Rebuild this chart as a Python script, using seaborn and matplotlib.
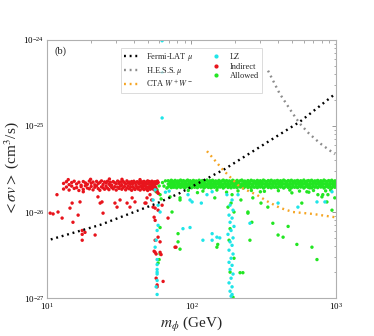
import numpy as np
import pandas as pd
import seaborn as sns
import matplotlib
matplotlib.use("Agg")
import matplotlib.pyplot as plt
from matplotlib.lines import Line2D
from matplotlib.ticker import NullFormatter, FixedLocator

# ---------------- axis ticks ----------------
x_ticks = [10, 100, 1000]
y_ticks = [1e-27, 1e-26, 1e-25, 1e-24]

# ---------------- curves (m in GeV, <sigma v> in cm^3/s) ----------------
fermi_m = [10.6, 23.4, 57.5, 83.0, 170.0, 563.0, 985.0]
fermi_sv = [4.8e-27, 7.1e-27, 1.26e-26, 1.66e-26, 3.16e-26, 1.12e-25, 2.35e-25]

hess_m = [339, 407, 501, 562, 646, 776, 985]
hess_sv = [4.4e-25, 2.4e-25, 1.41e-25, 1.07e-25, 8.3e-26, 6.3e-26, 4.7e-26]

cta_m = [128, 165, 200, 217, 284, 338, 409, 504, 692, 985]
cta_sv = [5.1e-26, 3.1e-26, 2.24e-26, 1.95e-26, 1.58e-26, 1.32e-26, 1.12e-26,
          1.0e-26, 9.5e-27, 8.7e-27]

# ---------------- scatter points (sv in units of 1e-26 cm^3/s) ----------------
# Allowed: dense band
band_m = [69, 71, 72.5, 74, 75.5, 77, 79, 80.5, 82, 84,
          86, 88, 90, 92, 94, 96, 98, 100, 103, 105,
          108, 110, 113, 116, 119, 122, 125, 128, 131, 134,
          137, 140, 144, 147, 151, 155, 158, 162, 166, 170,
          175, 179, 183, 188, 193, 197, 202, 207, 212, 218,
          223, 229, 234, 240, 246, 252, 259, 265, 272, 279,
          286, 293, 300, 308, 315, 323, 331, 340, 348, 357,
          366, 375, 384, 394, 404, 414, 424, 435, 446, 457,
          468, 480, 492, 504, 517, 530, 543, 557, 571, 585,
          600, 615, 630, 646, 662, 679, 696, 713, 731, 749,
          768, 787, 807, 827, 848, 869, 891, 913, 936, 960,
          984, 998]
band_sv_hi = [2.31, 2.25, 2.34, 2.28, 2.23, 2.33, 2.26, 2.30, 2.24, 2.35,
              2.27, 2.32, 2.24, 2.29, 2.35, 2.25, 2.31, 2.23, 2.33, 2.27,
              2.30, 2.24, 2.34, 2.26, 2.32, 2.23, 2.29, 2.35, 2.25, 2.31,
              2.28, 2.34, 2.23, 2.30, 2.26, 2.33, 2.24, 2.29, 2.35, 2.27,
              2.32, 2.25, 2.30, 2.23, 2.34, 2.28, 2.26, 2.33, 2.24, 2.31,
              2.35, 2.27, 2.29, 2.23, 2.32, 2.25, 2.34, 2.28, 2.30, 2.24,
              2.33, 2.26, 2.31, 2.23, 2.35, 2.29, 2.25, 2.32, 2.27, 2.34,
              2.24, 2.30, 2.28, 2.33, 2.23, 2.31, 2.26, 2.35, 2.29, 2.25,
              2.32, 2.27, 2.34, 2.24, 2.30, 2.28, 2.33, 2.23, 2.31, 2.26,
              2.35, 2.25, 2.29, 2.32, 2.27, 2.34, 2.24, 2.30, 2.28, 2.33,
              2.23, 2.31, 2.26, 2.35, 2.29, 2.25, 2.32, 2.27, 2.34, 2.24,
              2.30, 2.28]
band_sv_mid = [2.12, 2.07, 2.16, 2.09, 2.14, 2.06, 2.18, 2.10, 2.13, 2.08,
               2.17, 2.11, 2.06, 2.15, 2.09, 2.13, 2.07, 2.18, 2.10, 2.14,
               2.08, 2.16, 2.12, 2.06, 2.17, 2.09, 2.13, 2.11, 2.15, 2.07,
               2.18, 2.10, 2.14, 2.08, 2.12, 2.16, 2.06, 2.13, 2.09, 2.17,
               2.11, 2.15, 2.07, 2.12, 2.18, 2.08, 2.14, 2.10, 2.16, 2.06,
               2.13, 2.09, 2.17, 2.11, 2.07, 2.15, 2.12, 2.08, 2.18, 2.10,
               2.14, 2.06, 2.16, 2.09, 2.13, 2.11, 2.17, 2.07, 2.15, 2.12,
               2.08, 2.18, 2.10, 2.14, 2.06, 2.16, 2.09, 2.13, 2.11, 2.17,
               2.07, 2.15, 2.12, 2.08, 2.18, 2.10, 2.14, 2.06, 2.16, 2.09,
               2.13, 2.11, 2.17, 2.07, 2.15, 2.12, 2.08, 2.18, 2.10, 2.14,
               2.06, 2.16, 2.09, 2.13, 2.11, 2.17, 2.07, 2.15, 2.12, 2.08,
               2.18, 2.10]
band_sv_lo = [1.96, 2.01, 1.92, 1.98, 1.94, 2.02, 1.91, 1.97, 1.99, 1.93,
              2.00, 1.95, 1.90, 1.98, 2.02, 1.93, 1.96, 1.91, 2.00, 1.94,
              1.97, 1.92, 2.01, 1.95, 1.99, 1.90, 1.96, 2.02, 1.93, 1.98,
              1.91, 2.00, 1.94, 1.97, 1.92, 2.01, 1.95, 1.99, 1.90, 1.96,
              2.02, 1.93, 1.98, 1.91, 2.00, 1.94, 1.97, 1.92, 2.01, 1.95,
              1.99, 1.90, 1.96, 2.02, 1.93, 1.98, 1.91, 2.00, 1.94, 1.97,
              1.92, 2.01, 1.95, 1.99, 1.90, 1.96, 2.02, 1.93, 1.98, 1.91,
              2.00, 1.94, 1.97, 1.92, 2.01, 1.95, 1.99, 1.90, 1.96, 2.02,
              1.93, 1.98, 1.91, 2.00, 1.94, 1.97, 1.92, 2.01, 1.95, 1.99,
              1.90, 1.96, 2.02, 1.93, 1.98, 1.91, 2.00, 1.94, 1.97, 1.92,
              2.01, 1.95, 1.99, 1.90, 1.96, 2.02, 1.93, 1.98, 1.91, 2.00,
              1.94, 1.97]
# Allowed: scattered points
allowed_m = [63, 64.5, 66, 67.5, 51.6, 56.0, 53.0, 57.8, 59.7, 56.9, 60.6, 61.6,
             60.6, 59.7, 58.7, 60.6, 80.7, 83.3, 73.3, 71.0, 83.3, 80.7,
             83.3, 145, 246, 262, 366, 398, 431, 467, 537, 683, 740, 338, 581,
             751, 812, 867, 983, 227, 150, 266, 220, 303, 496, 630, 659, 801,
             881, 940, 152, 254, 246,
             179, 191, 185, 185, 217, 194, 188, 197, 182, 197,
             95, 120, 150, 210, 260, 320, 400, 480, 560, 700, 850, 110, 175,
             300, 650, 920]
allowed_sv = [2.2, 2.0, 2.3, 1.9, 2.06, 1.91, 2.17, 1.81, 2.01, 1.72, 1.59, 1.42,
              0.66, 0.28, 0.255, 0.325, 0.56, 0.37, 1.0, 1.5, 1.38, 0.45,
              1.46, 1.46, 0.97, 0.76, 0.74, 0.54, 0.51, 0.68, 0.42, 0.39, 0.28,
              1.14, 1.27, 1.59, 1.59, 1.31, 1.46, 0.197, 0.39, 1.46, 1.38, 1.27,
              1.67, 1.72, 1.91, 1.5, 1.59, 1.05, 0.42, 0.47, 1.0,
              1.14, 1.59, 0.64, 0.20, 0.197, 0.102, 1.27, 1.0, 0.47, 0.29,
              1.78, 1.75, 1.8, 1.76, 1.78, 1.74, 1.77, 1.8, 1.75, 1.78, 1.76,
              1.68, 1.70, 1.72, 1.7, 1.8]

# Indirect: band
red_m = [13.0, 13.6, 14.2, 14.8, 15.4, 16.0, 16.6, 17.2, 17.8, 18.4,
         19.0, 19.6, 20.2, 20.8, 21.4, 22.0, 22.6, 23.2, 23.8, 24.4,
         25.0, 25.6, 26.2, 26.8, 27.4, 28.0, 28.7, 29.4, 30.1, 30.8,
         31.5, 32.2, 32.9, 33.6, 34.3, 35.0, 35.7, 36.4, 37.1, 37.8,
         38.5, 39.2, 39.9, 40.6, 41.3, 42.0, 42.7, 43.4, 44.1, 44.8,
         45.5, 46.2, 46.9, 47.6, 48.3, 49.0, 49.7, 50.4, 51.1, 51.8,
         52.5, 53.2, 53.9, 54.6, 55.3, 56.0, 56.7, 57.4, 58.1, 58.8]
red_sv_hi = [2.15, 2.25, 2.08, 2.20, 2.28, 2.12, 2.22, 2.05, 2.26, 2.18,
             2.10, 2.29, 2.16, 2.23, 2.07, 2.27, 2.14, 2.21, 2.30, 2.09,
             2.24, 2.17, 2.28, 2.11, 2.22, 2.06, 2.26, 2.19, 2.13, 2.29,
             2.15, 2.24, 2.08, 2.27, 2.20, 2.12, 2.30, 2.17, 2.23, 2.10,
             2.26, 2.14, 2.28, 2.19, 2.07, 2.25, 2.21, 2.13, 2.29, 2.16,
             2.24, 2.09, 2.27, 2.18, 2.22, 2.11, 2.30, 2.15, 2.26, 2.20,
             2.12, 2.28, 2.17, 2.23, 2.08, 2.25, 2.19, 2.14, 2.29, 2.21]
red_sv_lo = [1.85, 1.95, 1.80, 2.00, 1.88, 1.92, 1.78, 1.97, 1.83, 2.02,
             1.90, 1.86, 1.98, 1.81, 1.94, 2.01, 1.87, 1.79, 1.96, 1.91,
             1.84, 1.99, 1.89, 1.82, 2.02, 1.93, 1.86, 1.97, 1.80, 1.95,
             1.88, 2.00, 1.84, 1.92, 1.98, 1.81, 1.90, 2.01, 1.86, 1.94,
             1.79, 1.97, 1.89, 1.83, 2.00, 1.92, 1.85, 1.96, 1.80, 1.99,
             1.88, 1.93, 1.82, 2.02, 1.87, 1.95, 1.78, 1.91, 1.98, 1.84,
             1.90, 2.01, 1.86, 1.94, 1.81, 1.97, 1.89, 1.75, 1.70, 1.65]
# Indirect: scattered points
indirect_m = [10.5, 11.0, 11.9, 12.7, 11.7, 14.9, 14.4, 15.1, 17.5, 18.3,
              17.5, 21.5, 17.8, 22.5, 23.3, 29.5, 32.0, 30.5, 38.8, 40.6,
              49.2, 47.6, 76.9, 24.4, 37.5, 24.0, 35.8, 16.9, 16.4, 17.5,
              48.4, 54.2, 56.0, 58.7, 55.1, 56.0, 68.8, 78.1, 56.0, 60.6,
              61.6, 63.6, 57.8, 56.9, 58.7, 56.0, 60.6, 55.1, 56.9, 57.8,
              62.6, 51.6, 53.0, 14.0, 20.0, 27.0, 33.0, 44.0]
indirect_sv = [0.97, 0.95, 1.0, 0.85, 1.59, 1.27, 1.11, 0.76, 0.61, 0.58,
               0.47, 0.54, 1.72, 1.50, 1.27, 1.27, 1.38, 1.14, 1.46, 1.31,
               1.46, 1.27, 0.39, 0.97, 1.14, 1.31, 1.27, 1.31, 0.92, 0.55,
               1.27, 1.14, 1.11, 1.05, 0.87, 0.80, 0.85, 0.39, 0.34, 0.34,
               0.32, 0.156, 0.142, 0.17, 0.51, 0.47, 0.45, 0.35, 0.325, 0.135,
               1.2, 1.59, 1.38, 2.38, 2.4, 2.42, 2.4, 2.38]

# LZ (excluded by direct detection)
lz_m = [54.2, 60.6, 57.8, 56.0, 57.8, 57.8, 57.8, 57.8, 57.8, 56.9, 57.8,
        58.7, 56.9, 57.8, 58.7, 56.0, 62.6, 62.6, 62.6,
        191, 185, 194, 182, 191, 185, 197, 188, 179, 194, 185, 191, 182, 194,
        188, 182, 191, 185, 194, 188, 182, 191, 185, 191, 188,
        94.6, 97.7, 87.3, 120, 139, 150, 740, 940, 210, 101, 117, 128, 139,
        176, 254, 546, 840, 398, 97.7, 157, 139, 66, 70]
lz_sv = [1.38, 1.0, 0.61, 0.39, 0.28, 0.215, 0.20, 0.19, 0.16, 0.135, 0.11,
         0.70, 0.47, 0.245, 1.2, 1.81, 98.0, 42.0, 12.4,
         1.38, 1.2, 1.05, 0.92, 0.85, 0.76, 0.68, 0.61, 0.55, 0.50, 0.45,
         0.41, 0.36, 0.325, 0.29, 0.26, 0.24, 0.215, 0.19, 0.17, 0.15, 0.135,
         0.12, 0.11, 0.105,
         1.59, 1.38, 0.64, 0.47, 0.56, 0.51, 1.31, 1.72, 1.59, 1.31, 1.27,
         1.59, 1.72, 1.59, 0.74, 1.14, 1.31, 1.27, 0.66, 0.50, 0.47, 1.7, 1.75]

# ---------------- build table ----------------
rows = []
for m, s in zip(band_m, band_sv_hi):
    rows.append((m, s, "Allowed"))
for m, s in zip(band_m, band_sv_mid):
    rows.append((m, s, "Allowed"))
for m, s in zip(band_m, band_sv_lo):
    rows.append((m, s, "Allowed"))
for m, s in zip(allowed_m, allowed_sv):
    rows.append((m, s, "Allowed"))
for m, s in zip(red_m, red_sv_hi):
    rows.append((m, s, "Indirect"))
for m, s in zip(red_m, red_sv_lo):
    rows.append((m, s, "Indirect"))
for m, s in zip(indirect_m, indirect_sv):
    rows.append((m, s, "Indirect"))
for m, s in zip(lz_m, lz_sv):
    rows.append((m, s, "LZ"))
df = pd.DataFrame(rows, columns=["m", "sv", "kind"])
df["sv"] = df["sv"] * 1e-26

colors = {"LZ": "#1fe5e8", "Indirect": "#e8141c", "Allowed": "#22e622"}

# ---------------- plot ----------------
sns.set_style("white")
plt.rcParams["font.family"] = ["Liberation Serif", "DejaVu Serif"]
plt.rcParams["mathtext.fontset"] = "stix"

fig = plt.figure(figsize=(3.74, 3.36), dpi=100)
ax = fig.add_axes([0.126, 0.113, 0.772, 0.768])

sns.scatterplot(data=df, x="m", y="sv", hue="kind", palette=colors, s=6,
                linewidth=0, legend=False, ax=ax, zorder=2)

dot = (0, (0.8, 1.6))
sns.lineplot(x=fermi_m, y=fermi_sv, color="black", linestyle=dot, linewidth=1.7,
             sort=False, estimator=None, ax=ax, zorder=3)
sns.lineplot(x=hess_m, y=hess_sv, color="#8c8c8c", linestyle=dot, linewidth=1.7,
             sort=False, estimator=None, ax=ax, zorder=3)
sns.lineplot(x=cta_m, y=cta_sv, color="#f5a523", linestyle=dot, linewidth=1.7,
             sort=False, estimator=None, ax=ax, zorder=3)

ax.set_xscale("log")
ax.set_yscale("log")
ax.set_xlim(10, 1000)
ax.set_ylim(1e-27, 1e-24)
ax.set_xticks(x_ticks)
ax.set_yticks(y_ticks)
x_minor = [k * d for d in (10, 100) for k in range(2, 10)]
y_minor = [k * d for d in (1e-27, 1e-26, 1e-25) for k in range(2, 10)]
ax.xaxis.set_minor_locator(FixedLocator(x_minor))
ax.yaxis.set_minor_locator(FixedLocator(y_minor))
ax.xaxis.set_minor_formatter(NullFormatter())
ax.yaxis.set_minor_formatter(NullFormatter())

ax.set_xlabel(r"$m_\phi$ (GeV)", fontsize=11, labelpad=2)
ax.set_ylabel(r"$<\sigma v>$ (cm$^3$/s)", fontsize=11, labelpad=2)

for sp in ax.spines.values():
    sp.set_color("#b0b0b0")
    sp.set_linewidth(0.8)
ax.tick_params(which="both", direction="in", top=True, right=True,
               colors="#888888", labelcolor="black", labelsize=6.5, pad=2)
ax.tick_params(which="major", length=3, width=0.6)
ax.tick_params(which="minor", length=1.8, width=0.5)

ax.text(0.025, 0.975, "(b)", transform=ax.transAxes, fontsize=7.5,
        va="top", ha="left")

handles = [
    Line2D([], [], color="black", linestyle=dot, linewidth=1.7),
    Line2D([], [], color="#8c8c8c", linestyle=dot, linewidth=1.7),
    Line2D([], [], color="#f5a523", linestyle=dot, linewidth=1.7),
    Line2D([], [], color=colors["LZ"], marker="o", linestyle="none", markersize=2),
    Line2D([], [], color=colors["Indirect"], marker="o", linestyle="none", markersize=2),
    Line2D([], [], color=colors["Allowed"], marker="o", linestyle="none", markersize=2),
]
labels = [r"Fermi-LAT $\mu$", r"H.E.S.S. $\mu$", r"CTA $W^+W^-$",
          "LZ", "Indirect", "Allowed"]
leg = ax.legend(handles, labels, ncol=2, loc="upper center",
                bbox_to_anchor=(0.5, 0.985), fontsize=6, frameon=True,
                fancybox=False, edgecolor="#cccccc", handlelength=2.0,
                handletextpad=0.6, columnspacing=1.8, borderpad=0.4,
                labelspacing=0.15)
leg.get_frame().set_linewidth(0.6)

fig.savefig("out.png", dpi=100)
